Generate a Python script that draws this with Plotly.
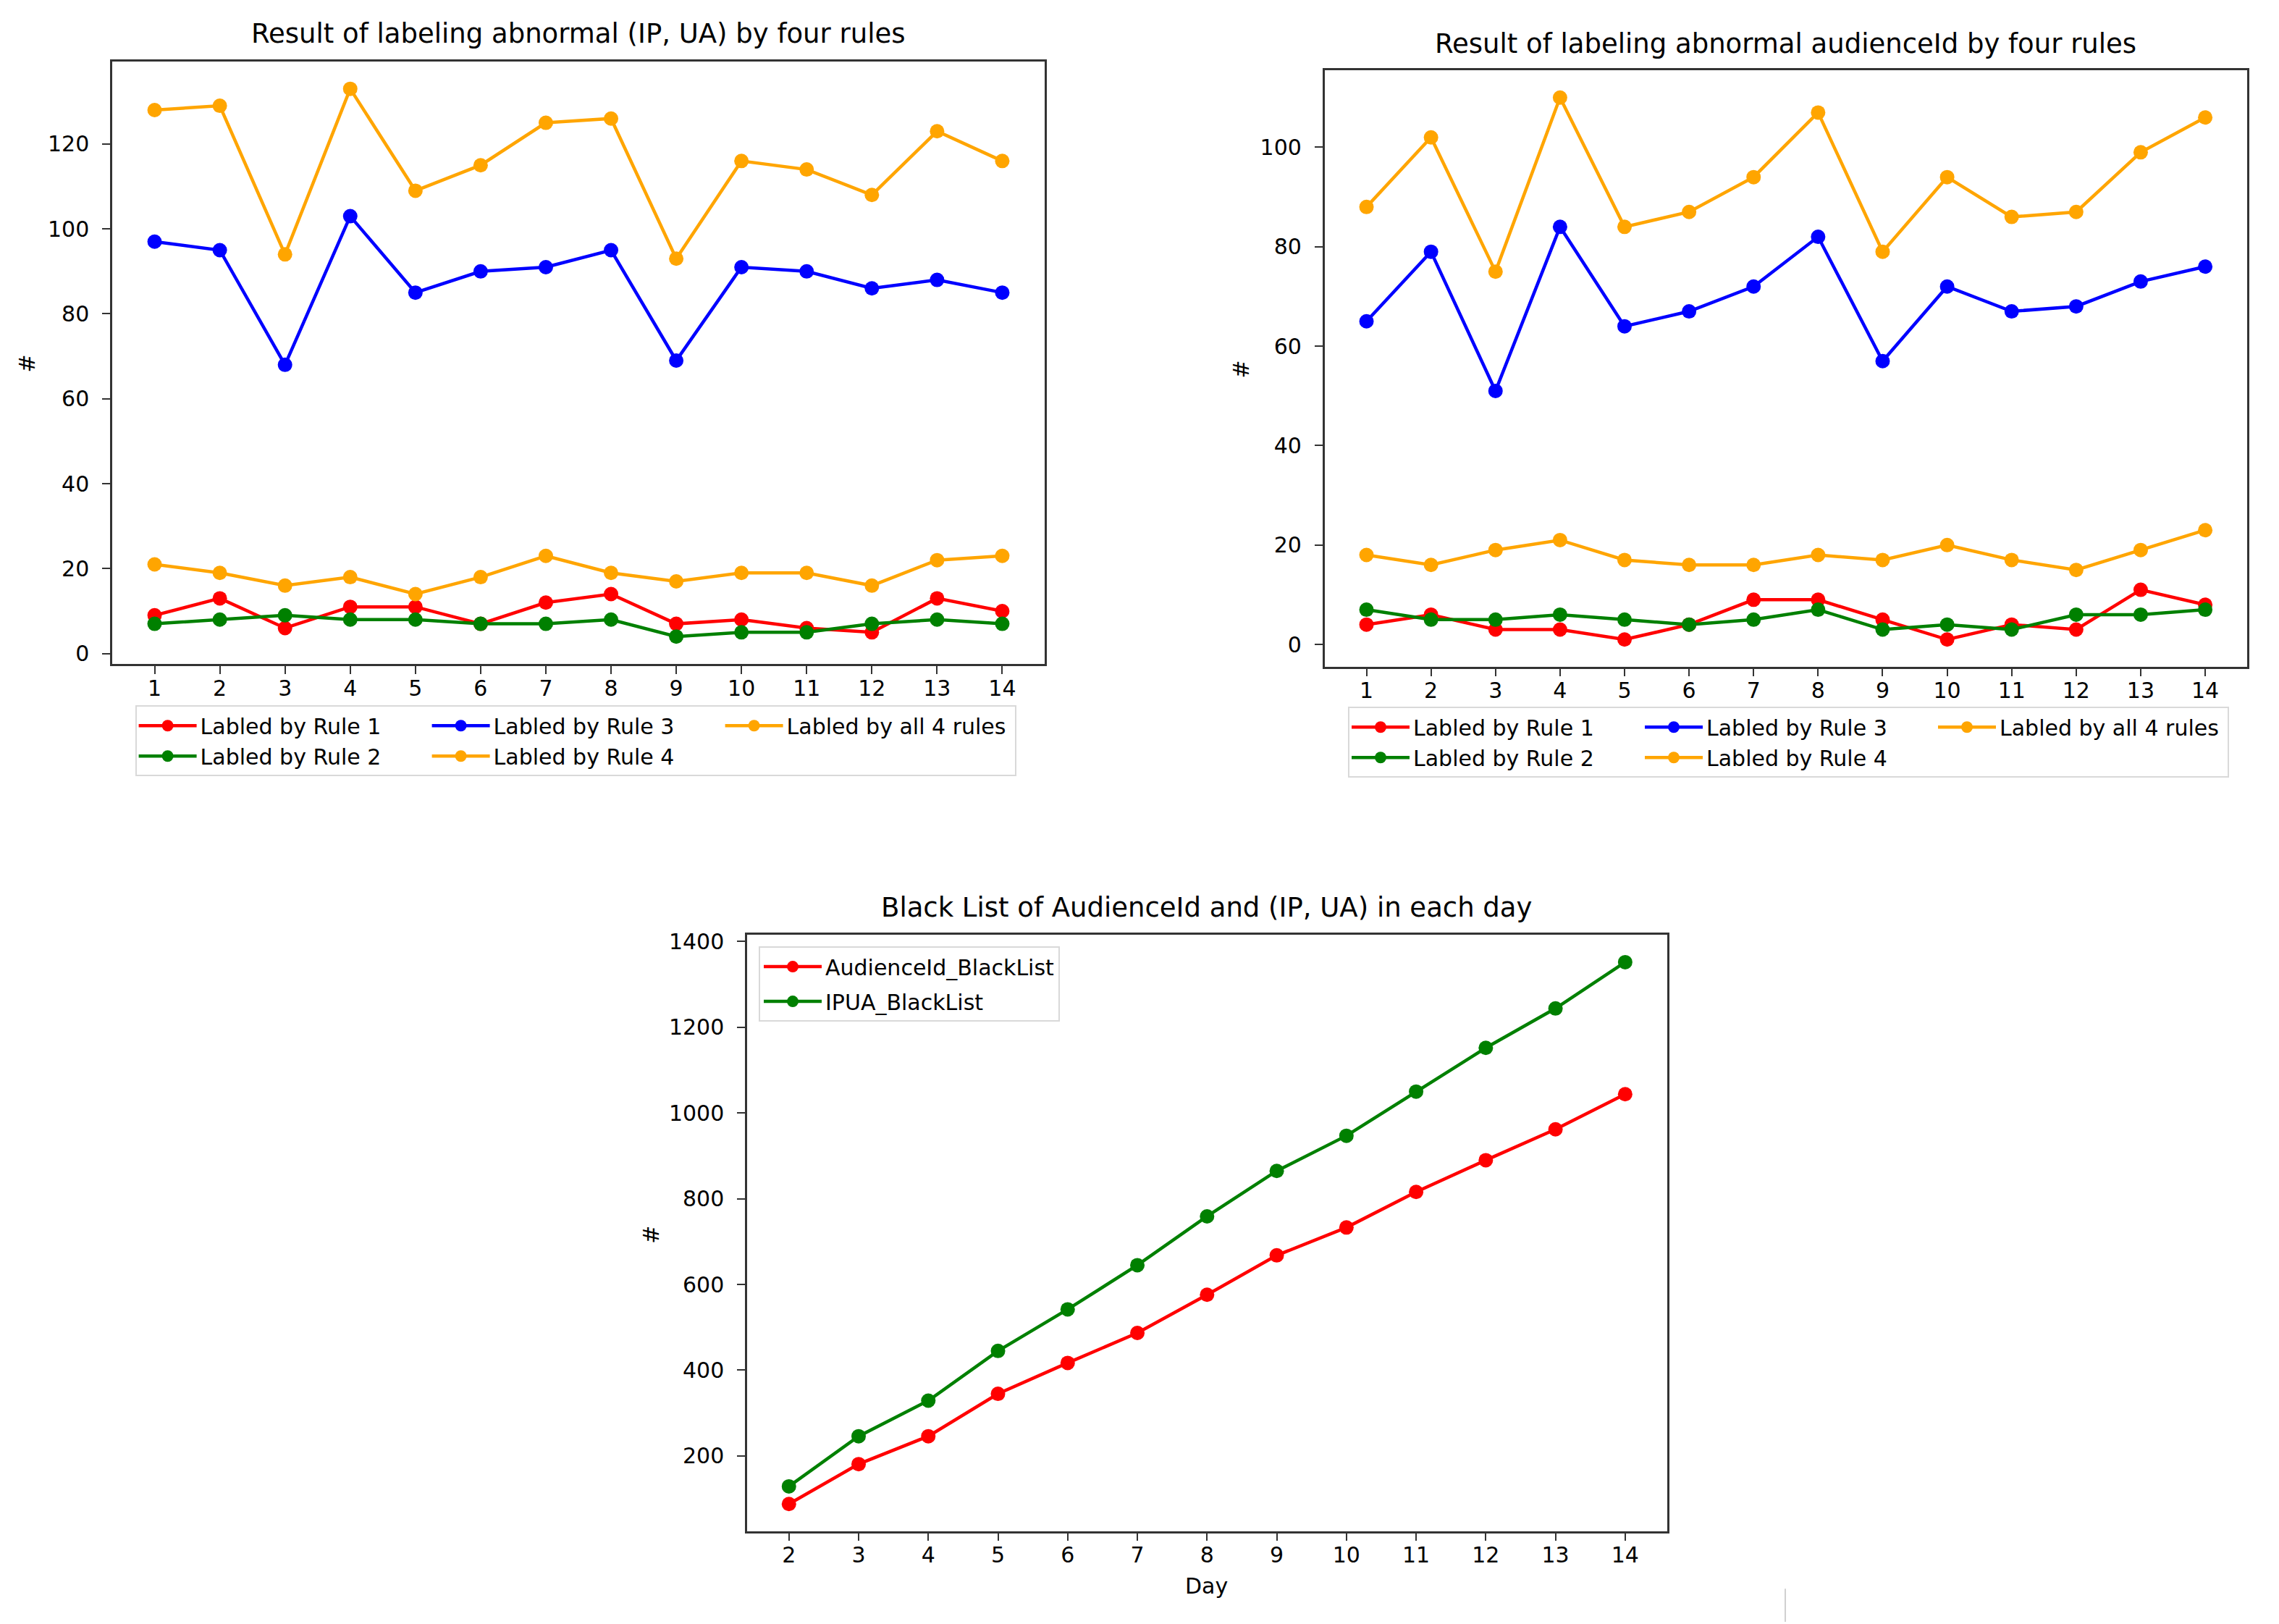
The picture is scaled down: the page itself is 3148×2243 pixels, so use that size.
import plotly.graph_objects as go

# ---------------- data ----------------
days = list(range(1, 15))

# (IP, UA) chart
ipua_rule1 = [9, 13, 6, 11, 11, 7, 12, 14, 7, 8, 6, 5, 13, 10]
ipua_rule2 = [7, 8, 9, 8, 8, 7, 7, 8, 4, 5, 5, 7, 8, 7]
ipua_rule3 = [97, 95, 68, 103, 85, 90, 91, 95, 69, 91, 90, 86, 88, 85]
ipua_rule4 = [128, 129, 94, 133, 109, 115, 125, 126, 93, 116, 114, 108, 123, 116]
ipua_all4 = [21, 19, 16, 18, 14, 18, 23, 19, 17, 19, 19, 16, 22, 23]

# audienceId chart
aud_rule1 = [4, 6, 3, 3, 1, 4, 9, 9, 5, 1, 4, 3, 11, 8]
aud_rule2 = [7, 5, 5, 6, 5, 4, 5, 7, 3, 4, 3, 6, 6, 7]
aud_rule3 = [65, 79, 51, 84, 64, 67, 72, 82, 57, 72, 67, 68, 73, 76]
aud_rule4 = [88, 102, 75, 110, 84, 87, 94, 107, 79, 94, 86, 87, 99, 106]
aud_all4 = [18, 16, 19, 21, 17, 16, 16, 18, 17, 20, 17, 15, 19, 23]

# black list chart
bl_days = list(range(2, 15))
audience_blacklist = [88, 181, 246, 345, 417, 487, 576, 668, 733, 816, 890, 962, 1044]
ipua_blacklist = [129, 246, 329, 445, 542, 645, 759, 865, 947, 1050, 1152, 1244, 1352]

rule_names = ["Labled by Rule 1", "Labled by Rule 2", "Labled by Rule 3",
              "Labled by Rule 4", "Labled by all 4 rules"]
rule_colors = ["#ff0000", "#008000", "#0000ff", "#ffa500", "#ffa500"]
rule_groups = ["a", "a", "b", "b", "c"]

titles = ["Result of labeling abnormal (IP, UA) by four rules",
          "Result of labeling abnormal audienceId by four rules",
          "Black List of AudienceId and (IP, UA) in each day"]

# ---------------- figure ----------------
W, H = 3148, 2243
FONT = "DejaVu Sans"
fig = go.Figure()

LW = 4.5
MS = 20

def add_rules(series, xa, ya, leg):
    for name, vals, col, grp in zip(rule_names, series, rule_colors, rule_groups):
        fig.add_trace(go.Scatter(
            x=days, y=vals, name=name, mode="lines+markers",
            line=dict(color=col, width=LW),
            marker=dict(color=col, size=MS, line=dict(width=0)),
            xaxis=xa, yaxis=ya, legend=leg, legendgroup=leg + grp))

add_rules([ipua_rule1, ipua_rule2, ipua_rule3, ipua_rule4, ipua_all4], "x", "y", "legend")
add_rules([aud_rule1, aud_rule2, aud_rule3, aud_rule4, aud_all4], "x2", "y2", "legend2")

fig.add_trace(go.Scatter(
    x=bl_days, y=audience_blacklist, name="AudienceId_BlackList", mode="lines+markers",
    line=dict(color="#ff0000", width=LW), marker=dict(color="#ff0000", size=MS),
    xaxis="x3", yaxis="y3", legend="legend3", legendgroup="bl1"))
fig.add_trace(go.Scatter(
    x=bl_days, y=ipua_blacklist, name="IPUA_BlackList", mode="lines+markers",
    line=dict(color="#008000", width=LW), marker=dict(color="#008000", size=MS),
    xaxis="x3", yaxis="y3", legend="legend3", legendgroup="bl2"))

def px_x(p):
    return p / W

def px_y(p):
    return 1 - p / H

axis_common = dict(
    showline=True, mirror=True, linecolor="#333333", linewidth=2.5,
    ticks="outside", ticklen=11, tickwidth=2, tickcolor="#333333",
    showgrid=False, zeroline=False,
    tickfont=dict(family=FONT, size=30, color="#000000"),
)
xax = dict(axis_common, ticklabelstandoff=-6)
yax = dict(axis_common, ticklabelstandoff=12)

fig.update_layout(
    width=W, height=H,
    margin=dict(l=0, r=0, t=0, b=0),
    paper_bgcolor="#ffffff", plot_bgcolor="#ffffff",
    font=dict(family=FONT, size=30, color="#000000"),
    xaxis=dict(domain=[px_x(155), px_x(1443)], range=[0.35, 14.65],
               tickmode="array", tickvals=days, anchor="y", **xax),
    yaxis=dict(domain=[px_y(913.5), px_y(77.2)], range=[-2.45, 139.45],
               tickmode="array", tickvals=[0, 20, 40, 60, 80, 100, 120], anchor="x", **yax),
    xaxis2=dict(domain=[px_x(1829.6), px_x(3104)], range=[0.35, 14.65],
                tickmode="array", tickvals=days, anchor="y2", **xax),
    yaxis2=dict(domain=[px_y(917.2), px_y(89.8)], range=[-4.45, 115.45],
                tickmode="array", tickvals=[0, 20, 40, 60, 80, 100], anchor="x2", **yax),
    xaxis3=dict(domain=[px_x(1032), px_x(2302.6)], range=[1.4, 14.6],
                tickmode="array", tickvals=bl_days, anchor="y3", **xax),
    yaxis3=dict(domain=[px_y(2117), px_y(1289.8)], range=[24.8, 1415.2],
                tickmode="array", tickvals=[200, 400, 600, 800, 1000, 1200, 1400],
                anchor="x3", **yax),
    showlegend=True,
)

leg_common = dict(
    bgcolor="#ffffff", bordercolor="#d9d9d9", borderwidth=2,
    font=dict(family=FONT, size=30, color="#000000"),
    xanchor="left", yanchor="top", itemwidth=80,
)
fig.update_layout(
    legend=dict(x=px_x(186.6), y=px_y(971), orientation="h", traceorder="grouped",
                entrywidth=310, **leg_common),
    legend2=dict(x=px_x(1862), y=px_y(973), orientation="h", traceorder="grouped",
                 entrywidth=310, **leg_common),
    legend3=dict(x=px_x(1048), y=px_y(1305.5), orientation="v", traceorder="grouped",
                 tracegroupgap=6, **leg_common),
)

annos = [
    dict(text=titles[0], x=px_x(799), y=px_y(39), font=dict(size=37)),
    dict(text=titles[1], x=px_x(2466), y=px_y(53), font=dict(size=37)),
    dict(text=titles[2], x=px_x(1667), y=px_y(1252), font=dict(size=37)),
    dict(text="#", x=px_x(38), y=px_y(497), textangle=-90, font=dict(size=30)),
    dict(text="#", x=px_x(1715), y=px_y(505), textangle=-90, font=dict(size=30)),
    dict(text="#", x=px_x(900), y=px_y(1705), textangle=-90, font=dict(size=30)),
    dict(text="Day", x=px_x(1667), y=px_y(2193), font=dict(size=30)),
]
for a in annos:
    a.update(xref="paper", yref="paper", xanchor="center", yanchor="middle",
             showarrow=False)
    a["font"].update(family=FONT, color="#000000")
fig.update_layout(annotations=annos)

# thin stray separator line visible at the bottom of the reference
fig.add_shape(type="line", xref="paper", yref="paper",
              x0=px_x(2466), x1=px_x(2466), y0=0, y1=px_y(2197),
              line=dict(color="#d0d0d0", width=2))

fig.write_html("out.html",
               config={"displayModeBar": False},
               post_script="document.body.style.margin='0';"
                           "document.body.style.overflow='hidden';")
